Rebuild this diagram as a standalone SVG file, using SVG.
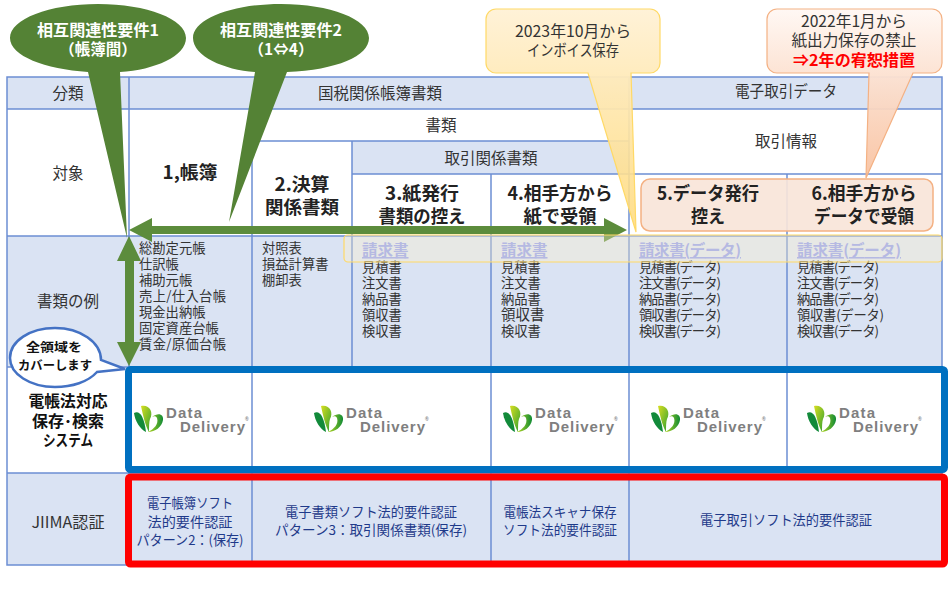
<svg xmlns="http://www.w3.org/2000/svg" xmlns:xlink="http://www.w3.org/1999/xlink" width="950" height="595" viewBox="0 0 950 595">
<style>
text{font-family:"Noto Sans CJK JP","Liberation Sans",sans-serif;fill:#333;text-anchor:middle}
.t{font-size:15.5px}
.b{font-size:18px;font-weight:700;fill:#222}
.l{font-size:13.3px;text-anchor:start;fill:#333}
.h{font-size:15.5px;font-weight:700;text-anchor:start;fill:#8e9bee;text-decoration:underline}
.w{font-size:15.5px;font-weight:700;fill:#fff}
.j{font-size:13.3px;fill:#1f3a8a}
.k{font-size:14px;font-weight:700;fill:#111}
.d{font-family:"Liberation Sans",sans-serif;font-weight:700;fill:#7f7f7f;text-anchor:start}
.fill{fill:#dae3f3}
.grid{stroke:#6c8ed4;stroke-width:1.5;fill:none}
</style>
<defs>
<linearGradient id="gy" gradientUnits="userSpaceOnUse" x1="0" y1="9" x2="0" y2="236"><stop offset="0" stop-color="#fff2d8"/><stop offset="1" stop-color="#ffd976" stop-opacity=".85"/></linearGradient>
<linearGradient id="go" gradientUnits="userSpaceOnUse" x1="0" y1="9" x2="0" y2="178"><stop offset="0" stop-color="#fff8f4"/><stop offset="1" stop-color="#f8bf9c" stop-opacity=".9"/></linearGradient>
<linearGradient id="lg" x1="0" y1="0" x2="1" y2="1"><stop offset="0" stop-color="#d8de20"/><stop offset="1" stop-color="#2fa030"/></linearGradient>
<linearGradient id="lw" x1="0" y1="0" x2="1" y2="0"><stop offset="0" stop-color="#b8d820"/><stop offset="1" stop-color="#0f8a35"/></linearGradient>
<symbol id="leaf" width="30" height="30" viewBox="0 0 30 30" overflow="visible">
<path d="M0,8 C5,5 10,10 12,27 C6,24 1,16 0,8Z" fill="#128a3a"/>
<path d="M7,1 C15,-1 20,7 16,14 C15,17 15,22 15,27 C11,20 9,10 7,1Z" fill="url(#lg)"/>
<path d="M18,12 C24,7 30,9 29,15 C28,22 21,27 14,27 C20,24 25,19 23,13 C22,11 20,11 18,12Z" fill="url(#lw)"/>
</symbol>
</defs>

<g id="table">
<rect x="7" y="77" width="935" height="488" fill="#fff"/>
<rect class="fill" x="7" y="77" width="935" height="32"/>
<rect class="fill" x="352" y="141" width="277" height="33"/>
<rect class="fill" x="7" y="236" width="935" height="131"/>
<rect class="fill" x="7" y="473" width="935" height="92"/>
<path class="grid" d="M7,77H942V565H7ZM7,109H942M252,141H629M352,174H942M7,236H942M7,367H942M7,473H942M129,77V565M252,141V473M352,141V367M491,174V565M629,77V565M787,174V473M252,473V565"/>
</g>

<g id="row-labels">
<text class="t" x="68" y="99">分類</text>
<text class="t" x="68" y="179">対象</text>
<text class="t" x="68" y="307">書類の例</text>
<text class="t" x="68" y="528" textLength="73" lengthAdjust="spacingAndGlyphs">JIIMA認証</text>
<text class="k" x="68" y="407" style="font-size:15.5px" textLength="79" lengthAdjust="spacingAndGlyphs">電帳法対応</text>
<text class="k" x="68" y="427" style="font-size:15.5px" textLength="72" lengthAdjust="spacingAndGlyphs">保存･検索</text>
<text class="k" x="68" y="446" style="font-size:15.5px" textLength="50" lengthAdjust="spacingAndGlyphs">システム</text>
</g>

<g id="headers">
<text class="t" x="380" y="99">国税関係帳簿書類</text>
<text class="t" x="786" y="97" textLength="102" lengthAdjust="spacingAndGlyphs">電子取引データ</text>
<text class="t" x="441" y="131">書類</text>
<text class="t" x="491" y="164">取引関係書類</text>
<text class="t" x="786" y="147">取引情報</text>
</g>

<g id="cat-5-6">
<rect x="641" y="179" width="292" height="52" rx="9" fill="#f8e5d9" fill-opacity=".92" stroke="#f4b183" stroke-width="1.5"/>
</g>
<g id="categories">
<text class="b" x="190" y="179" textLength="55" lengthAdjust="spacingAndGlyphs">1,帳簿</text>
<text class="b" x="302" y="191" textLength="55" lengthAdjust="spacingAndGlyphs">2.決算</text>
<text class="b" x="302" y="214" textLength="74" lengthAdjust="spacingAndGlyphs">関係書類</text>
<text class="b" x="422" y="200" textLength="74" lengthAdjust="spacingAndGlyphs">3.紙発行</text>
<text class="b" x="422" y="223" textLength="87" lengthAdjust="spacingAndGlyphs">書類の控え</text>
<text class="b" x="560" y="200" textLength="105" lengthAdjust="spacingAndGlyphs">4.相手方から</text>
<text class="b" x="560" y="223" textLength="73" lengthAdjust="spacingAndGlyphs">紙で受領</text>
<text class="b" x="708" y="200" textLength="102" lengthAdjust="spacingAndGlyphs">5.データ発行</text>
<text class="b" x="708" y="223" textLength="34" lengthAdjust="spacingAndGlyphs">控え</text>
<text class="b" x="864" y="200" textLength="105" lengthAdjust="spacingAndGlyphs">6.相手方から</text>
<text class="b" x="864" y="223" textLength="100" lengthAdjust="spacingAndGlyphs">データで受領</text>
</g>

<g id="doc-examples">
<text class="l" x="139" y="253">総勘定元帳</text>
<text class="l" x="139" y="269">仕訳帳</text>
<text class="l" x="139" y="285">補助元帳</text>
<text class="l" x="139" y="301" textLength="87">売上/仕入台帳</text>
<text class="l" x="139" y="317">現金出納帳</text>
<text class="l" x="139" y="333">固定資産台帳</text>
<text class="l" x="139" y="349" textLength="87">賃金/原価台帳</text>
<text class="l" x="262" y="253">対照表</text>
<text class="l" x="262" y="269">損益計算書</text>
<text class="l" x="262" y="285">棚卸表</text>
<text class="h" x="362" y="256">請求書</text>
<text class="l" x="362" y="272">見積書</text>
<text class="l" x="362" y="288">注文書</text>
<text class="l" x="362" y="304">納品書</text>
<text class="l" x="362" y="320">領収書</text>
<text class="l" x="362" y="336">検収書</text>
<text class="h" x="501" y="256">請求書</text>
<text class="l" x="501" y="272">見積書</text>
<text class="l" x="501" y="288">注文書</text>
<text class="l" x="501" y="304">納品書</text>
<text class="l" x="501" y="320" style="font-size:14.5px">領収書</text>
<text class="l" x="501" y="336">検収書</text>
<text class="h" x="639" y="256" textLength="102">請求書(データ)</text>
<text class="l" x="639" y="272" textLength="82">見積書(データ)</text>
<text class="l" x="639" y="288" textLength="82">注文書(データ)</text>
<text class="l" x="639" y="304" textLength="82">納品書(データ)</text>
<text class="l" x="639" y="320" textLength="82">領収書(データ)</text>
<text class="l" x="639" y="336" textLength="82">検収書(データ)</text>
<text class="h" x="797" y="256" textLength="104">請求書(データ)</text>
<text class="l" x="797" y="272" textLength="82">見積書(データ)</text>
<text class="l" x="797" y="288" textLength="82">注文書(データ)</text>
<text class="l" x="797" y="304" textLength="82">納品書(データ)</text>
<text class="l" x="797" y="320" textLength="87">領収書(データ)</text>
<text class="l" x="797" y="336" textLength="82">検収書(データ)</text>
</g>

<g id="jiima">
<text class="j" x="190" y="508" textLength="86" lengthAdjust="spacingAndGlyphs">電子帳簿ソフト</text>
<text class="j" x="190" y="527" textLength="85" lengthAdjust="spacingAndGlyphs">法的要件認証</text>
<text class="j" x="190" y="545" textLength="107" lengthAdjust="spacingAndGlyphs">パターン2：(保存)</text>
<text class="j" x="371" y="517" textLength="172" lengthAdjust="spacingAndGlyphs">電子書類ソフト法的要件認証</text>
<text class="j" x="371" y="535" textLength="192" lengthAdjust="spacingAndGlyphs">パターン3：取引関係書類(保存)</text>
<text class="j" x="560" y="517" textLength="113" lengthAdjust="spacingAndGlyphs">電帳法スキャナ保存</text>
<text class="j" x="560" y="535" textLength="114" lengthAdjust="spacingAndGlyphs">ソフト法的要件認証</text>
<text class="j" x="786" y="525" textLength="172" lengthAdjust="spacingAndGlyphs">電子取引ソフト法的要件認証</text>
</g>

<g id="logos">
<g id="logo-1" transform="translate(134,405)"><use href="#leaf" xlink:href="#leaf"/><text class="d" x="32" y="13" font-size="15" textLength="36">Data</text><text class="d" x="46" y="27" font-size="15" textLength="65">Delivery</text><text class="d" x="111" y="16" font-size="5">®</text></g>
<g id="logo-2" transform="translate(314,405)"><use href="#leaf" xlink:href="#leaf"/><text class="d" x="32" y="13" font-size="15" textLength="36">Data</text><text class="d" x="46" y="27" font-size="15" textLength="65">Delivery</text><text class="d" x="111" y="16" font-size="5">®</text></g>
<g id="logo-3" transform="translate(503,405)"><use href="#leaf" xlink:href="#leaf"/><text class="d" x="32" y="13" font-size="15" textLength="36">Data</text><text class="d" x="46" y="27" font-size="15" textLength="65">Delivery</text><text class="d" x="111" y="16" font-size="5">®</text></g>
<g id="logo-4" transform="translate(651,405)"><use href="#leaf" xlink:href="#leaf"/><text class="d" x="32" y="13" font-size="15" textLength="36">Data</text><text class="d" x="46" y="27" font-size="15" textLength="65">Delivery</text><text class="d" x="111" y="16" font-size="5">®</text></g>
<g id="logo-5" transform="translate(807,405)"><use href="#leaf" xlink:href="#leaf"/><text class="d" x="32" y="13" font-size="15" textLength="36">Data</text><text class="d" x="46" y="27" font-size="15" textLength="65">Delivery</text><text class="d" x="111" y="16" font-size="5">®</text></g>
</g>

<g id="frames" fill="none" stroke-width="7" stroke-linejoin="round">
<rect id="frame-blue" x="128.5" y="369.5" width="816" height="100" rx="2" stroke="#0070c0"/>
<rect id="frame-red" x="128.5" y="477" width="816" height="87" rx="2" stroke="#ff0000"/>
</g>

<g id="connectors" fill="#5c8c3c">
<path d="M129,230L152,218V226H604V218L627,230L604,242V234H152V242Z"/>
<path d="M129,236L141,261H134V342H141L129,366L117,342H125V261H117Z"/>
</g>

<g id="callout-1"><path d="M98,4C147,4 186,19 186,38C186,56 155,70 120,72L127,238L88,72C45,69 10,56 10,38C10,19 49,4 98,4Z" fill="#548235"/>
<text class="w" x="98" y="36" textLength="122" lengthAdjust="spacingAndGlyphs">相互関連性要件1</text><text class="w" x="98" y="55">（帳簿間）</text></g>
<g id="callout-2"><path d="M281,4C330,4 369,19 369,38C369,56 337,70 287,72L229,222L255,72C224,70 193,56 193,38C193,19 232,4 281,4Z" fill="#548235"/>
<text class="w" x="281" y="36" textLength="122" lengthAdjust="spacingAndGlyphs">相互関連性要件2</text><text class="w" x="281" y="55">（1⇔4）</text></g>

<g id="coverage-bubble">
<path d="M55,328C80,328 101,342 101,360L125,369L97,372C88,382 72,387 55,387C30,387 10,374 10,358C10,341 30,328 55,328Z" fill="#fff" stroke="#4472c4" stroke-width="2.5"/>
<text class="k" x="54" y="352" style="font-size:12.5px" textLength="56" lengthAdjust="spacingAndGlyphs">全領域を</text>
<text class="k" x="55" y="370" style="font-size:12.5px" textLength="74" lengthAdjust="spacingAndGlyphs">カバーします</text>
</g>

<g id="invoice-band"><rect x="344" y="235" width="598" height="27" rx="4" fill="#fff2cc" fill-opacity=".35" stroke="#ffd966" stroke-width="1.2"/></g>

<g id="callout-invoice">
<path d="M496,9H650A10,10 0 0 1 660,19V63A10,10 0 0 1 650,73H631L636,232L588,73H496A10,10 0 0 1 486,63V19A10,10 0 0 1 496,9Z" fill="url(#gy)" stroke="#ffd966" stroke-width="1.2"/>
<text class="t" x="573" y="37" fill="#333" textLength="116" lengthAdjust="spacingAndGlyphs">2023年10月から</text>
<text class="t" x="573" y="56" textLength="92" lengthAdjust="spacingAndGlyphs">インボイス保存</text>
</g>
<g id="callout-paper">
<path d="M777,9H932A10,10 0 0 1 942,19V63A10,10 0 0 1 932,73H913L866,178L869,73H777A10,10 0 0 1 767,63V19A10,10 0 0 1 777,9Z" fill="url(#go)" stroke="#f4b183" stroke-width="1.2"/>
<text class="t" x="854" y="27" textLength="106" lengthAdjust="spacingAndGlyphs">2022年1月から</text>
<text class="t" x="854" y="46" textLength="125" lengthAdjust="spacingAndGlyphs">紙出力保存の禁止</text>
<text class="t" x="854" y="66" style="fill:#ff0000;font-weight:700" textLength="122" lengthAdjust="spacingAndGlyphs">⇒2年の宥恕措置</text>
</g>
</svg>
